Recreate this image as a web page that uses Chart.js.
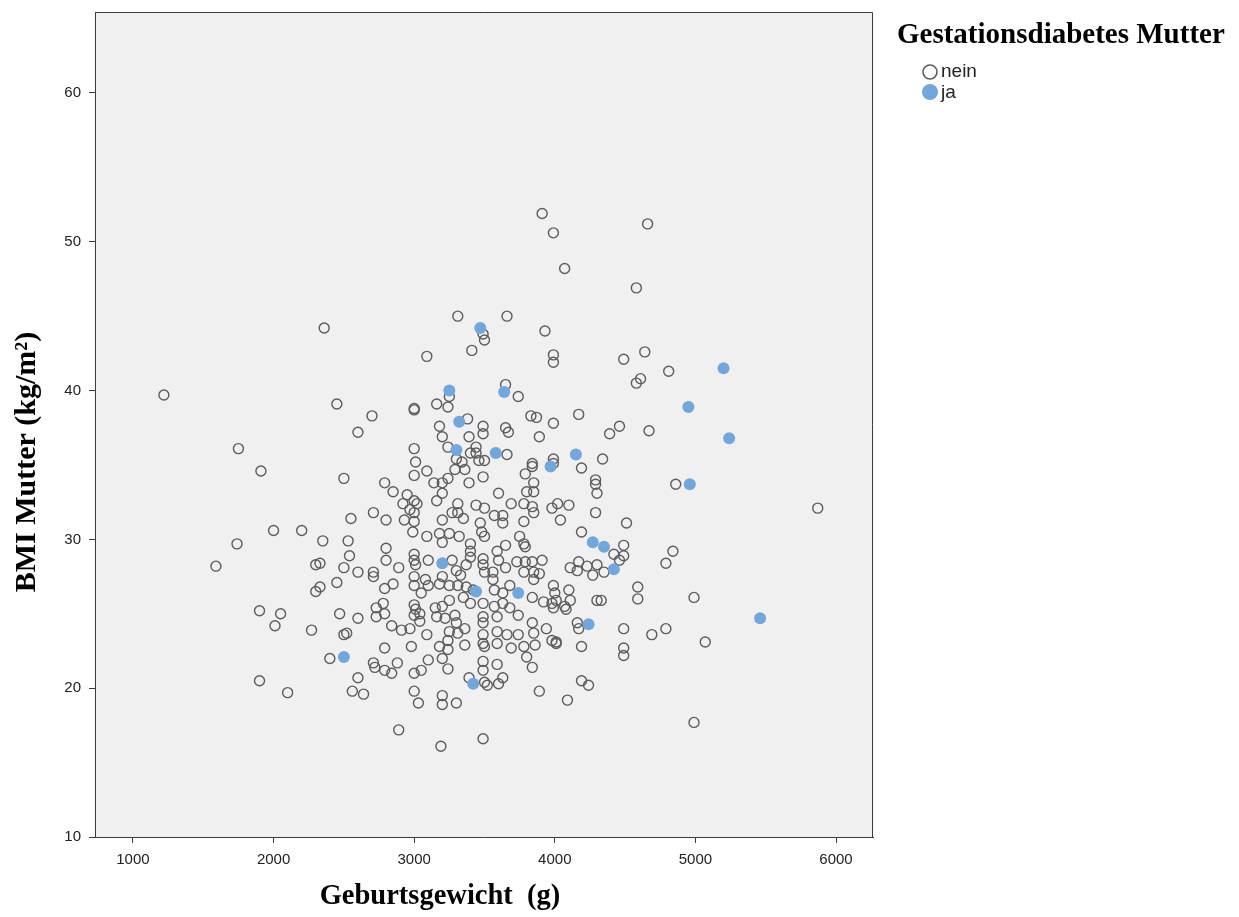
<!DOCTYPE html>
<html>
<head>
<meta charset="utf-8">
<title>BMI Mutter vs. Geburtsgewicht</title>
<script src="https://cdn.jsdelivr.net/npm/chart.js@4.4.1/dist/chart.umd.min.js"></script>
<style>
  html, body { margin: 0; padding: 0; background: #fff; }
  #wrap { width: 1239px; height: 917px; }
</style>
</head>
<body>
<div id="wrap"><canvas id="streu" width="1239" height="917"></canvas></div>
<script>
// Gestationsdiabetes = nein
const neinGewicht = [
  3910, 3990, 4660, 4070, 4580,
  2360, 1220, 2450, 2600, 1750, 1910, 2500, 2550, 2000, 2200, 2350, 2530, 1740, 2540,
  1590, 2300, 2330, 2500, 2600, 2450, 2330, 2300, 1900, 2050, 2010, 2270, 2470, 2600, 2500, 2520, 2400, 2600, 2560, 2640, 1900, 2100,
  3310, 3490, 3500, 3410, 3090, 3250, 3160, 3240, 3000, 3000, 2700, 3380, 3180, 3490, 3490, 3200, 3390, 3000, 3240, 3440,
  3440, 3460, 3500, 3400, 3300, 3340, 3360, 3290, 3010, 3000, 3090, 3140, 3200, 3240, 3390, 3490, 2790,
  3660, 3930, 3990, 3990, 3650, 3740, 3830, 3870, 4170, 3990, 3650, 3670, 3890, 4390, 3660, 4340, 3990, 3990, 4190, 3840,
  3840, 3790, 3850, 4290, 4290,
  4640, 4490, 4810, 4610, 4580, 4460, 4670, 4860,
  2850, 2950, 3000, 3020, 2920, 2970, 3000, 3160, 3200, 3310, 3440, 3500, 2710, 2800, 2930, 3000, 3200, 3270, 3310, 3350,
  3470, 3480, 3500, 2990, 3090, 3180, 3200, 3250, 3320, 3400, 2800, 2800, 3000, 3000, 3010, 3100, 2890, 3270, 3300, 3370,
  3330, 3400, 3400, 3490, 3490, 3500, 2710, 2710, 3000, 3000, 3080, 3100, 3050, 3200, 3180, 3250, 3310, 3370, 3420, 2790,
  2850, 2780, 2730, 3000, 3010, 3150, 3200, 3250, 3350, 3400, 3490,
  3600, 3690, 3780, 3840, 3850, 3630, 3630, 3570, 3780, 3850, 3800, 3980, 4020, 4100, 4040, 4300, 4290, 4190, 3750, 3780,
  3790, 3650, 3590, 3600, 3730, 3790, 3840, 3910, 3650, 3780, 3850, 3890, 3850, 4110, 4170, 4230, 4300, 4160, 4270, 4350,
  3560, 3560, 3570, 3680, 3630, 3630, 3840, 3990, 4000, 3920, 3980, 4010, 4100, 4110, 4070, 4300, 4330, 3680, 3990, 3570,
  4510, 4490, 4490, 4420, 4460, 4840, 4790, 4590, 4590, 4990,
  4490, 4490, 4490, 4690, 4790, 5070, 4990,
  5870,
  2730, 2790, 2840, 2910, 2970, 3000, 3040, 3040, 3090, 3160, 3220, 3290, 3300, 3250, 3310, 3360, 3360, 3240, 3180, 3240,
  3200, 3490, 3490, 3490, 3490, 3500, 3590, 3590, 3590, 3660, 3690, 3740, 3740, 3780, 3800, 3860, 3850, 3840, 3940, 3980,
  4010, 4010, 4080, 4160, 4170, 4190, 2790, 2980, 2710, 2720, 2790, 2840, 2880, 3000, 3050, 3100, 3240, 3490, 3490, 3590,
  3390, 3500, 3520, 3600, 3630, 3840, 3890, 4190, 4240, 4090, 3000, 3030, 3200, 3200, 3300, 2890, 3190, 3490
];
const neinBMI = [
  51.9, 50.6, 51.2, 48.2, 46.9,
  44.2, 39.7, 39.1, 37.2, 36.1, 34.6, 34.1, 31.4, 30.6, 30.6, 29.9, 29.9, 29.7, 28.9,
  28.2, 28.3, 28.4, 28.1, 27.8, 27.1, 26.8, 26.5, 25.2, 25.0, 24.2, 23.9, 25.0, 24.7, 23.6, 23.7, 22.0, 20.7, 19.8, 19.6, 20.5, 19.7,
  45.0, 43.8, 43.4, 42.7, 42.3, 39.6, 39.1, 38.9, 38.8, 38.7, 38.3, 38.1, 37.6, 37.6, 37.1, 36.9, 36.9, 36.1, 36.2, 36.2,
  35.8, 35.3, 35.3, 35.8, 35.4, 35.2, 34.7, 34.7, 35.2, 34.3, 34.6, 33.8, 33.8, 34.1, 33.8, 34.2, 33.8,
  45.0, 44.0, 42.4, 41.9, 40.4, 39.6, 38.3, 38.2, 38.4, 37.8, 37.5, 37.2, 36.9, 37.1, 35.7, 35.4, 35.4, 35.1, 34.8, 35.1,
  34.9, 34.4, 33.8, 34.0, 33.7,
  42.6, 42.1, 41.3, 40.8, 40.5, 37.6, 37.3, 33.7,
  33.2, 33.0, 32.6, 32.4, 32.4, 32.0, 31.8, 32.6, 33.1, 32.4, 32.3, 32.1, 31.8, 31.3, 31.3, 31.2, 31.3, 31.8, 31.8, 31.4,
  31.1, 30.5, 30.2, 30.5, 30.2, 30.4, 29.8, 30.4, 30.2, 29.7, 29.4, 28.6, 29.0, 28.6, 28.3, 28.6, 28.1, 28.6, 27.9, 28.3,
  27.6, 29.2, 28.8, 28.7, 28.3, 27.8, 27.8, 27.5, 27.5, 26.9, 27.3, 26.9, 26.4, 27.5, 27.0, 26.9, 26.9, 26.8, 26.6, 26.7,
  27.0, 25.7, 25.4, 25.6, 25.3, 25.4, 25.5, 25.9, 26.1, 25.7, 25.7,
  33.1, 32.4, 32.4, 32.2, 31.8, 31.6, 31.1, 31.6, 31.2, 33.2, 33.2, 32.1, 32.4, 32.3, 31.3, 33.1, 31.8, 30.5, 30.2, 29.7,
  29.5, 29.6, 29.2, 28.6, 28.5, 28.5, 28.5, 28.6, 28.1, 27.8, 27.8, 27.7, 27.3, 28.1, 28.5, 28.2, 28.3, 27.9, 27.6, 27.8,
  27.8, 27.3, 26.6, 26.9, 26.4, 25.7, 26.1, 26.9, 26.4, 25.8, 25.7, 25.9, 26.6, 25.9, 25.5, 25.9, 25.9, 25.4, 25.4, 25.5,
  31.1, 29.6, 28.9, 29.0, 28.6, 29.2, 28.4, 26.8, 26.0, 26.1,
  24.0, 22.7, 22.2, 23.6, 24.0, 23.1, 17.7,
  32.1,
  24.8, 25.0, 24.2, 23.9, 24.0, 24.9, 25.0, 24.5, 23.6, 24.8, 24.7, 24.9, 24.4, 23.8, 23.7, 24.0, 22.9, 23.2, 22.8, 22.6,
  22.0, 24.8, 24.4, 23.6, 23.0, 22.8, 24.8, 23.8, 23.0, 23.6, 22.7, 24.9, 23.6, 22.8, 22.1, 22.9, 23.7, 24.4, 24.0, 23.2,
  23.1, 23.0, 25.3, 24.4, 24.0, 22.8, 22.7, 22.8, 21.7, 21.4, 21.2, 21.0, 21.7, 21.0, 21.2, 21.9, 21.3, 21.8, 21.2, 21.6,
  20.7, 20.4, 20.2, 20.3, 20.7, 21.4, 19.8, 20.5, 20.2, 19.2, 19.8, 19.0, 19.5, 18.9, 19.0, 17.2, 16.1, 16.6
];

// Gestationsdiabetes = ja
const jaGewicht = [2500, 3470, 3250, 3320, 3300, 3580, 3640, 4150, 3970, 5200, 4950,
                   5240, 4960, 3200, 3440, 4270, 4350, 3740, 4420, 5460, 4240, 3420];
const jaBMI = [22.1, 44.2, 40.0, 37.9, 36.0, 35.8, 39.9, 35.7, 34.9, 41.5, 38.9,
               36.8, 33.7, 28.4, 26.5, 29.8, 29.5, 26.4, 28.0, 24.7, 24.3, 20.3];

const xTicks = [1000, 2000, 3000, 4000, 5000, 6000];
const yTicks = [10, 20, 30, 40, 50, 60];
const gruppen = ['nein', 'ja'];
const legendenTitel = 'Gestationsdiabetes Mutter';
const xTitel = 'Geburtsgewicht  (g)';
const yTitel = 'BMI Mutter (kg/m\u00B2)';

const grau = '#5c5c5c';
const blau = '#73a6db';
const achse = '#3c3c3c';
const serif = '"Liberation Serif", "Times New Roman", serif';

function punkte(xs, ys) {
    return xs.map((x, i) => ({ x: x, y: ys[i] }));
}

// Hintergrund, Rahmen, Achsentitel und Legende
const spssDeko = {
    id: 'spssDeko',
    beforeDraw(chart) {
        const { ctx, chartArea: a } = chart;
        ctx.save();
        ctx.fillStyle = '#f0f0f0';
        ctx.fillRect(a.left, a.top, a.right - a.left, a.bottom - a.top);
        ctx.restore();
    },
    afterDraw(chart) {
        const { ctx, chartArea: a } = chart;
        ctx.save();
        // oberer und rechter Rahmen
        ctx.strokeStyle = achse;
        ctx.lineWidth = 1;
        ctx.beginPath();
        ctx.moveTo(a.left, a.top + 0.5);
        ctx.lineTo(a.right - 0.5, a.top + 0.5);
        ctx.lineTo(a.right - 0.5, a.bottom);
        ctx.stroke();

        ctx.fillStyle = '#000';
        ctx.font = 'bold 28.5px ' + serif;
        ctx.textAlign = 'center';
        ctx.textBaseline = 'middle';
        ctx.fillText(xTitel, 440, 897);

        ctx.save();
        ctx.font = 'bold 30px ' + serif;
        ctx.translate(27, 462);
        ctx.rotate(-Math.PI / 2);
        ctx.fillText(yTitel, 0, 0);
        ctx.restore();

        // Legende
        ctx.font = 'bold 29px ' + serif;
        ctx.textAlign = 'left';
        ctx.textBaseline = 'alphabetic';
        ctx.fillText(legendenTitel, 897, 43);

        ctx.font = '19px "Liberation Sans", Arial, sans-serif';
        ctx.textBaseline = 'middle';

        ctx.beginPath();
        ctx.arc(930, 72, 7, 0, Math.PI * 2);
        ctx.strokeStyle = grau;
        ctx.lineWidth = 1.6;
        ctx.stroke();
        ctx.fillStyle = '#222';
        ctx.fillText(gruppen[0], 941, 72);

        ctx.beginPath();
        ctx.arc(930, 92, 8, 0, Math.PI * 2);
        ctx.fillStyle = blau;
        ctx.fill();
        ctx.fillStyle = '#222';
        ctx.fillText(gruppen[1], 941, 93);
        ctx.restore();
    }
};

const tickSchrift = { family: '"Liberation Sans", Arial, sans-serif', size: 15 };

const config = {
    type: 'scatter',
    data: {
        datasets: [
            {
                label: gruppen[0],
                data: punkte(neinGewicht, neinBMI),
                pointRadius: 5,
                pointBorderWidth: 1.4,
                pointBorderColor: grau,
                pointBackgroundColor: 'rgba(0,0,0,0)',
                order: 1
            },
            {
                label: gruppen[1],
                data: punkte(jaGewicht, jaBMI),
                pointRadius: 6,
                pointBorderWidth: 0,
                pointBorderColor: blau,
                pointBackgroundColor: blau,
                order: 0
            }
        ]
    },
    options: {
        responsive: false,
        animation: false,
        events: [],
        layout: { padding: { left: 0, top: 12, right: 366, bottom: 0 } },
        plugins: {
            legend: { display: false },
            tooltip: { enabled: false }
        },
        scales: {
            x: {
                type: 'linear',
                min: 730,
                max: 6263,
                afterBuildTicks: s => { s.ticks = xTicks.map(v => ({ value: v })); },
                afterFit: s => { s.height = 80; s.paddingLeft = 0; s.paddingRight = 0; },
                grid: { drawOnChartArea: false, drawTicks: true, tickLength: 6, color: achse },
                border: { display: true, color: achse, width: 1 },
                ticks: {
                    color: '#222', font: tickSchrift, padding: 8,
                    maxRotation: 0, autoSkip: false,
                    callback: v => String(v)
                }
            },
            y: {
                type: 'linear',
                min: 10,
                max: 65.44,
                afterBuildTicks: s => { s.ticks = yTicks.map(v => ({ value: v })); },
                afterFit: s => { s.width = 95; s.paddingTop = 0; s.paddingBottom = 0; },
                grid: { drawOnChartArea: false, drawTicks: true, tickLength: 6, color: achse },
                border: { display: true, color: achse, width: 1 },
                ticks: {
                    color: '#222', font: tickSchrift, padding: 8,
                    autoSkip: false,
                    callback: v => String(v)
                }
            }
        }
    },
    plugins: [spssDeko]
};

const streu = new Chart(document.getElementById('streu'), config);
</script>
</body>
</html>
